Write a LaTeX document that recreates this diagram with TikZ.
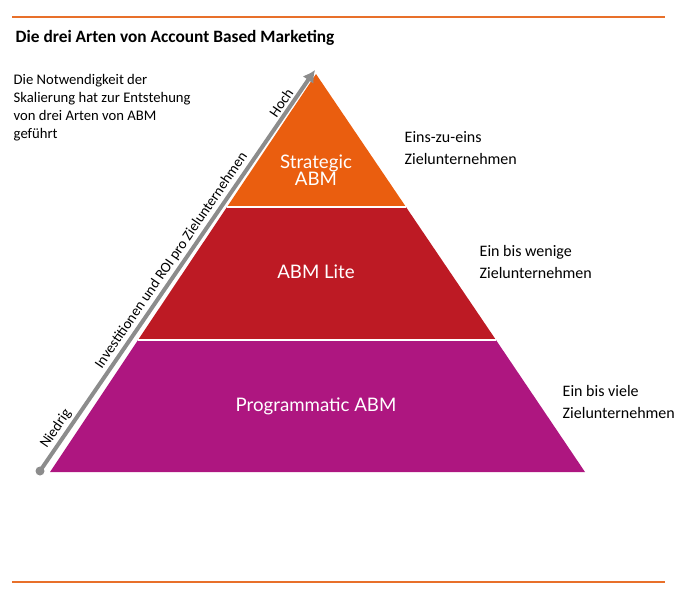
\documentclass[tikz,border=0pt]{standalone}
\usepackage{fontspec}
\usetikzlibrary{arrows.meta}
\setmainfont{Carlito}
\newfontfamily\labfont{Lato}
\definecolor{lineor}{HTML}{E8702A}
\definecolor{cor}{HTML}{EA5E0F}
\definecolor{cred}{HTML}{BD1A24}
\definecolor{cmag}{HTML}{AE1680}
\definecolor{cgray}{HTML}{8C8C8C}
\tikzset{
  lvl/.style={text=white,font=\labfont\fontsize{14}{16}\selectfont,align=center},
  side/.style={anchor=north west,font=\fontsize{12}{16}\selectfont,align=left},
  axlab/.style={sloped,above,inner sep=3pt,font=\fontsize{11}{12}\selectfont}
}
\begin{document}
\begin{tikzpicture}[x=0.75pt,y=-0.75pt]
\useasboundingbox (0,0) rectangle (693,600);
\draw[lineor,line width=0.8pt] (12,17) -- (665,17);
\draw[lineor,line width=0.8pt] (12,582) -- (665,582);
\node[anchor=west,font=\bfseries\fontsize{13}{15}\selectfont] (title) at (11,38) {Die drei Arten von Account Based Marketing};
\fill[cmag] (50,472) -- (585,472) -- (496,340) -- (138,340) -- cycle;
\fill[cred] (138,340) -- (496,340) -- (406,207) -- (227,207) -- cycle;
\fill[cor] (227,207) -- (406,207) -- (316,74) -- cycle;
\draw[white,line width=1.2pt] (138,340) -- (496,340) (227,207) -- (406,207);
\node[lvl] (s) at (316,170) {Strategic\\[-3pt]ABM};
\node[lvl] (l) at (316,272) {ABM Lite};
\node[lvl] (p) at (316,406) {Programmatic ABM};
\node[side] (t1) at (400,127) {Eins-zu-eins\\Zielunternehmen};
\node[side] (t2) at (475,241) {Ein bis wenige\\Zielunternehmen};
\node[side] (t3) at (558,381) {Ein bis viele\\Zielunternehmen};
\node[anchor=north west,font=\fontsize{11}{13.5}\selectfont,align=left] (intro) at (9,70) {Die Notwendigkeit der\\Skalierung hat zur Entstehung\\von drei Arten von ABM\\geführt};
\coordinate (a0) at (40,471);
\coordinate (a1) at (315,70);
\fill[cgray] (a0) circle (4.5);
\draw[cgray,line width=3pt,-{Latex[length=9pt,width=10pt]}] (a0) -- (a1);
\path (a0) -- (a1)
  node[axlab,pos=0.51] (mid) {Investitionen und ROI pro Zielunternehmen}
  node[axlab,pos=0.905] (hi) {Hoch}
  node[axlab,pos=0.09] (lo) {Niedrig};
\end{tikzpicture}
\end{document}
